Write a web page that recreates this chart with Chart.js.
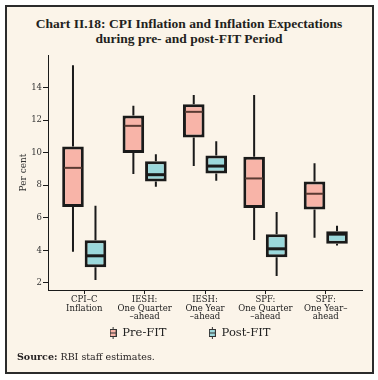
<!DOCTYPE html>
<html><head><meta charset="utf-8">
<script src="https://cdn.jsdelivr.net/npm/chart.js@4.4.0/dist/chart.umd.min.js"></script>
<style>
html,body{margin:0;padding:0;background:#fff;width:378px;height:380px;overflow:hidden;}
#frame{position:absolute;left:5px;top:5px;width:369px;height:369px;box-sizing:border-box;border:2px solid #2b2b2b;background:#FBF4E9;}
#title{position:absolute;left:0;top:17px;width:378px;text-align:center;font:bold 13.5px "Liberation Serif";line-height:14.5px;color:#231f20;}
#source{position:absolute;left:17px;top:351px;font:9.5px "DejaVu Serif";line-height:12px;color:#231f20;}
canvas{position:absolute;left:0;top:0;}
</style></head><body>
<div id="frame"></div>
<div id="title">Chart II.18: CPI Inflation and Inflation Expectations<br>during pre- and post-FIT Period</div>
<canvas id="c" width="378" height="380"></canvas>
<div id="source"><b>Source:</b> RBI staff estimates.</div>
<script>
const categories = [["CPI–C","Inflation"],["IESH:","One Quarter","–ahead"],["IESH:","One Year","–ahead"],["SPF:","One Quarter","–ahead"],["SPF:","One Year–","ahead"]];
const seriesNames = ["Pre-FIT","Post-FIT"];
const preMin    = [3.92, 8.69, 9.18, 4.64, 4.78];
const preQ1     = [6.66, 9.98, 10.94, 6.60, 6.52];
const preMedian = [9.07, 11.65, 12.51, 8.42, 7.48];
const preQ3     = [10.38, 12.29, 12.98, 9.75, 8.24];
const preMax    = [15.37, 12.88, 13.55, 13.55, 9.36];
const postMin    = [2.18, 7.91, 8.28, 2.43, 4.31];
const postQ1     = [2.96, 8.24, 8.73, 3.58, 4.41];
const postMedian = [3.67, 8.65, 9.18, 4.10, 5.00];
const postQ3     = [4.62, 9.48, 9.83, 5.00, 5.17];
const postMax    = [6.74, 9.90, 10.71, 6.36, 5.52];
const yTicks = [2, 4, 6, 8, 10, 12, 14];

const PINK = '#F8B4A8', CYAN = '#9BD8DB', INK = '#1a1a1a';
const stats = [
  {min: preMin, q1: preQ1, med: preMedian, q3: preQ3, max: preMax, fill: PINK, medColor: '#5a3a32', medWidth: 2},
  {min: postMin, q1: postQ1, med: postMedian, q3: postQ3, max: postMax, fill: CYAN, medColor: INK, medWidth: 3}
];

function makeIcon(fill) {
  const c = document.createElement('canvas');
  c.width = 7; c.height = 12;
  const g = c.getContext('2d');
  g.strokeStyle = '#333'; g.lineWidth = 1;
  g.beginPath(); g.moveTo(3.5, 0); g.lineTo(3.5, 12); g.stroke();
  g.fillStyle = '#333'; g.fillRect(0, 2, 7, 8);
  g.fillStyle = fill; g.fillRect(1, 3, 5, 6);
  g.fillStyle = '#333'; g.fillRect(1, 5.5, 5, 1);
  return c;
}
const icons = [makeIcon(PINK), makeIcon(CYAN)];

const boxPlugin = {
  id: 'boxWhiskers',
  beforeDatasetsDraw(chart) {
    const y = chart.scales.y, ctx = chart.ctx;
    ctx.save();
    ctx.strokeStyle = INK; ctx.lineWidth = 2;
    stats.forEach((s, di) => {
      chart.getDatasetMeta(di).data.forEach((el, i) => {
        ctx.beginPath();
        ctx.moveTo(el.x, y.getPixelForValue(s.max[i]));
        ctx.lineTo(el.x, y.getPixelForValue(s.q3[i]));
        ctx.moveTo(el.x, y.getPixelForValue(s.q1[i]));
        ctx.lineTo(el.x, y.getPixelForValue(s.min[i]));
        ctx.stroke();
      });
    });
    ctx.restore();
  },
  afterDatasetsDraw(chart) {
    const y = chart.scales.y, ctx = chart.ctx;
    ctx.save();
    stats.forEach((s, di) => {
      ctx.strokeStyle = s.medColor; ctx.lineWidth = s.medWidth;
      chart.getDatasetMeta(di).data.forEach((el, i) => {
        const py = y.getPixelForValue(s.med[i]);
        ctx.beginPath();
        ctx.moveTo(el.x - el.width / 2 + 2, py);
        ctx.lineTo(el.x + el.width / 2 - 2, py);
        ctx.stroke();
      });
    });
    ctx.restore();
  }
};

const datasets = stats.map((s, di) => ({
  label: seriesNames[di],
  data: categories.map((c, i) => ({x: i, y: [s.q1[i], s.q3[i]]})),
  backgroundColor: s.fill,
  borderColor: INK,
  borderWidth: 3,
  borderSkipped: false,
  barPercentage: 0.96,
  categoryPercentage: 0.745
}));

const serif = '"DejaVu Serif"';
new Chart(document.getElementById('c'), {
  type: 'bar',
  data: {datasets},
  plugins: [boxPlugin],
  options: {
    responsive: false,
    animation: false,
    layout: {padding: {left: 18, right: 16, top: 55, bottom: 31.25}},
    plugins: {
      tooltip: {enabled: false},
      title: {display: false},
      legend: {
        position: 'bottom',
        labels: {
          usePointStyle: true,
          boxWidth: 7,
          padding: 4.25,
          color: '#222',
          font: {family: serif, size: 11.5},
          generateLabels: () => seriesNames.map((n, i) => ({
            text: n + (i === 0 ? '\u2003\u2003\u2003 ' : ''),
            pointStyle: icons[i],
            fillStyle: stats[i].fill,
            strokeStyle: INK,
            lineWidth: 0,
            hidden: false,
            datasetIndex: i,
            fontColor: '#222'
          }))
        }
      }
    },
    scales: {
      x: {
        type: 'linear',
        offset: false,
        min: -0.6, max: 4.6,
        afterBuildTicks: (scale) => { scale.ticks = categories.map((c, i) => ({value: i})); },
        afterFit: (scale) => { scale.height = 33; scale.paddingLeft = 0; scale.paddingRight = 0; },
        border: {display: true, color: INK, width: 1},
        grid: {display: true, offset: false, drawOnChartArea: false, drawTicks: true, tickLength: 4, color: INK},
        ticks: {
          autoSkip: false, maxRotation: 0,
          padding: 2,
          color: '#222',
          font: {family: serif, size: 8.5, lineHeight: '8.5px'},
          callback: (v, idx) => categories[idx]
        }
      },
      y: {
        min: 1.57, max: 16,
        afterBuildTicks: (scale) => { scale.ticks = yTicks.map(v => ({value: v})); },
        afterFit: (scale) => { scale.width = 30; scale.paddingTop = 0; scale.paddingBottom = 0; },
        border: {display: true, color: INK, width: 1},
        grid: {display: true, drawOnChartArea: false, drawTicks: true, tickLength: 5, color: INK},
        ticks: {padding: 1, color: '#333', font: {family: serif, size: 8.5}},
        title: {display: true, text: 'Per cent', color: '#333', font: {family: serif, size: 9}, padding: {top: 0, bottom: 0}}
      }
    }
  }
});
</script>
</body></html>
